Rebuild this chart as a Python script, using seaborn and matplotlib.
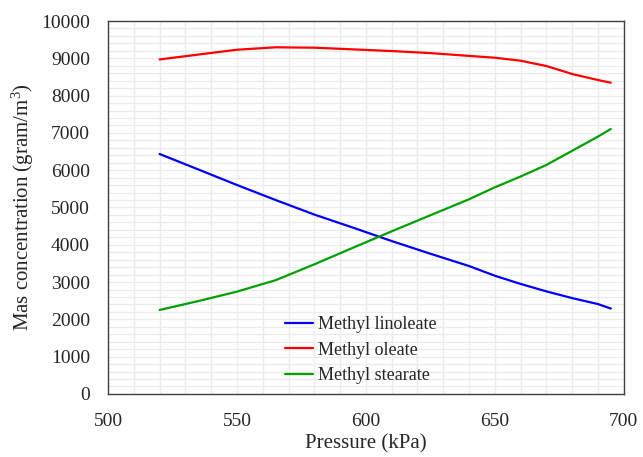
import matplotlib
matplotlib.use("Agg")
import matplotlib.pyplot as plt
import seaborn as sns
import pandas as pd
import numpy as np
from matplotlib.ticker import MultipleLocator

pressure = [520, 535, 550, 565, 580, 595, 610, 625, 640, 650, 660, 670, 680, 690, 695]
linoleate = [6434, 6020, 5603, 5200, 4810, 4460, 4100, 3760, 3430, 3170, 2950, 2750, 2570, 2410, 2290]
oleate = [8970, 9100, 9230, 9295, 9285, 9240, 9195, 9140, 9065, 9016, 8936, 8794, 8579, 8418, 8346]
stearate = [2252, 2490, 2743, 3050, 3475, 3920, 4360, 4790, 5220, 5540, 5830, 6140, 6520, 6900, 7105]
series_names = ["Methyl linoleate", "Methyl oleate", "Methyl stearate"]
colors = ["#0000FF", "#FF0000", "#00A000"]

df = pd.DataFrame({
    "Pressure": pressure * 3,
    "Conc": linoleate + oleate + stearate,
    "Series": sum([[n] * len(pressure) for n in series_names], []),
})

sns.set_style("white")
plt.rcParams["font.family"] = ["Liberation Serif", "DejaVu Serif"]
plt.rcParams["mathtext.fontset"] = "custom"
plt.rcParams["mathtext.rm"] = "Liberation Serif"
plt.rcParams["mathtext.it"] = "Liberation Serif:italic"

fig = plt.figure(figsize=(6.43, 4.57), dpi=100)
ax = fig.add_axes([0.168, 0.138, 0.802, 0.816])

sns.lineplot(data=df, x="Pressure", y="Conc", hue="Series", palette=colors,
             hue_order=series_names, linewidth=1.6, ax=ax, sort=True)

ax.set_xlim(500, 700)
ax.set_ylim(0, 10000)
ax.xaxis.set_major_locator(MultipleLocator(50))
ax.xaxis.set_minor_locator(MultipleLocator(10))
ax.yaxis.set_major_locator(MultipleLocator(1000))
ax.yaxis.set_minor_locator(MultipleLocator(200))
ax.grid(True, which="both", color="#ebebeb", linewidth=0.9)
ax.set_axisbelow(True)

for s in ax.spines.values():
    s.set_visible(True)
    s.set_color("#404040")
    s.set_linewidth(1.0)

ax.tick_params(axis="both", which="major", direction="in", length=4.5, width=1,
               color="#404040", labelsize=14)
ax.tick_params(axis="x", which="major", pad=14)
ax.tick_params(axis="y", which="major", pad=13)
ax.tick_params(axis="both", which="minor", length=0)

ax.set_xlabel("Pressure (kPa)", fontsize=15, labelpad=3)
ax.set_ylabel("Mas concentration (gram/m$^3$)", fontsize=15, labelpad=4)

leg = ax.legend(loc="lower left", bbox_to_anchor=(0.343, 0.026), frameon=False,
                fontsize=13, handlelength=1.55, handletextpad=0.3, labelspacing=0.47,
                borderpad=0, borderaxespad=0)

fig.savefig("out.png", dpi=100)
